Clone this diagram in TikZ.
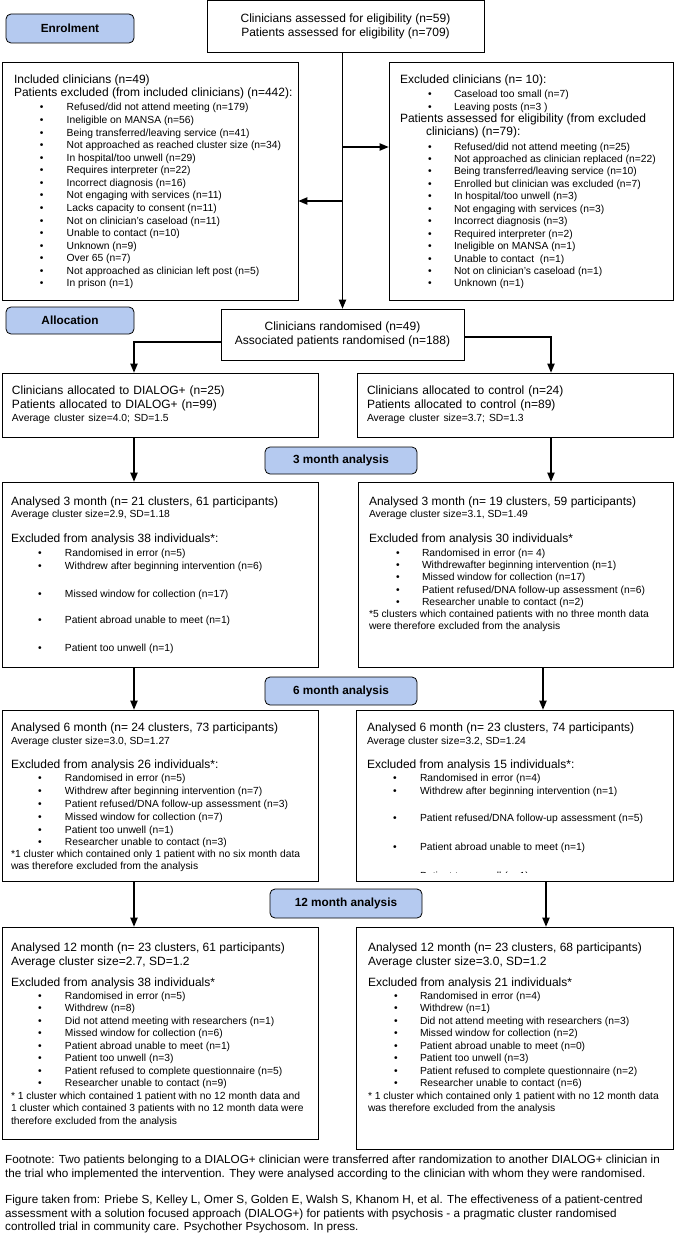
\documentclass[tikz,border=0pt]{standalone}
\usepackage{fontspec}
\setmainfont{Liberation Sans}
\usetikzlibrary{shapes.geometric, arrows, positioning}

\definecolor{stageblue}{RGB}{181,202,240}

\newlength{\hdx}\newlength{\bulx}\newlength{\txtx}
\newcommand{\hd}[1]{\hspace*{\hdx}\mbox{\fontsize{12}{13}\selectfont #1}}
\newcommand{\av}[1]{\hspace*{\hdx}\mbox{#1}}
\newcommand{\itm}[1]{\hspace*{\bulx}\makebox[0pt]{\textbullet}\hspace*{\txtx}\mbox{#1}}

\tikzstyle{stage} = [rectangle, rounded corners=5pt, minimum width=128pt, minimum height=29pt, text centered, draw=black, line width=0.8pt, fill=stageblue, font=\bfseries\fontsize{11.8}{14}\selectfont]
\tikzstyle{count} = [rectangle, align=center, draw=black, line width=0.8pt, fill=white, font=\fontsize{12}{14}\selectfont]
\tikzstyle{group} = [rectangle, minimum width=316pt, minimum height=64pt, text width=296pt, inner xsep=10pt, align=left, draw=black, line width=0.8pt, fill=white, font=\fontsize{12}{13.5}\selectfont]
\tikzstyle{listbox} = [rectangle, inner sep=0pt, draw=black, line width=0.8pt, fill=white]
\tikzstyle{note} = [anchor=north west, inner sep=0pt, align=left, font=\fontsize{11.7}{13.5}\selectfont]
\tikzstyle{arrow} = [line width=1.1pt,->,>=triangle 45]

\begin{document}
\begin{tikzpicture}[x=1pt, y=-1pt, node distance=2cm]
\useasboundingbox (0,0) rectangle (675,1244);

\node (assess) [count, minimum width=277pt, minimum height=52pt] at (345.5,26.5) {Clinicians assessed for eligibility (n=59)\\Patients assessed for eligibility (n=709)};
\node (enrol) [stage, left of=assess, node distance=275.5pt, yshift=-2pt] {Enrolment};

\node (incl) [listbox, below of=assess, node distance=154.5pt, xshift=-195.5pt] {\parbox[c][238pt][t]{296pt}{\fontsize{10.3}{12.57}\selectfont\lineskiplimit=-10pt
\setlength{\hdx}{12pt}\setlength{\bulx}{39.7pt}\setlength{\txtx}{25pt}%
\vspace*{13.2pt}\strut\hd{Included clinicians (n=49)}\\[0.4pt]
\hd{Patients excluded (from included clinicians) (n=442):}\\[1.4pt]
\itm{Refused/did not attend meeting (n=179)}\\
\itm{Ineligible on MANSA (n=56)}\\
\itm{Being transferred/leaving service (n=41)}\\
\itm{Not approached as reached cluster size (n=34)}\\
\itm{In hospital/too unwell (n=29)}\\
\itm{Requires interpreter (n=22)}\\
\itm{Incorrect diagnosis (n=16)}\\
\itm{Not engaging with services (n=11)}\\
\itm{Lacks capacity to consent (n=11)}\\
\itm{Not on clinician's caseload (n=11)}\\
\itm{Unable to contact (n=10)}\\
\itm{Unknown (n=9)}\\
\itm{Over 65 (n=7)}\\
\itm{Not approached as clinician left post (n=5)}\\
\itm{In prison (n=1)}}};

\node (excl) [listbox, right of=incl, node distance=381pt] {\parbox[c][238pt][t]{284pt}{\fontsize{10.3}{12.45}\selectfont\lineskiplimit=-10pt
\setlength{\hdx}{11pt}\setlength{\bulx}{41pt}\setlength{\txtx}{24pt}%
\vspace*{12.3pt}\strut\hd{Excluded clinicians (n= 10):}\\[1.55pt]
\itm{Caseload too small (n=7)}\\[0.55pt]
\itm{Leaving posts (n=3 )}\\[-0.45pt]
\hd{Patients assessed for eligibility (from excluded}\\[0.55pt]
\hspace*{26pt}\hd{clinicians) (n=79):}\\[2.55pt]
\itm{Refused/did not attend meeting (n=25)}\\
\itm{Not approached as clinician replaced (n=22)}\\
\itm{Being transferred/leaving service (n=10)}\\
\itm{Enrolled but clinician was excluded (n=7)}\\
\itm{In hospital/too unwell (n=3)}\\
\itm{Not engaging with services (n=3)}\\
\itm{Incorrect diagnosis (n=3)}\\
\itm{Required interpreter (n=2)}\\
\itm{Ineligible on MANSA (n=1)}\\
\itm{Unable to contact\ \ (n=1)}\\
\itm{Not on clinician's caseload (n=1)}\\
\itm{Unknown (n=1)}}};

\node (rand) [count, minimum width=243pt, minimum height=51pt, below of=assess, node distance=308pt, xshift=-3pt] {Clinicians randomised (n=49)\\Associated patients randomised (n=188)};
\node (alloc) [stage, minimum height=27pt, below of=enrol, node distance=292pt] {Allocation};

\node (dialog) [group, below of=incl, node distance=224pt, xshift=10pt] {Clinicians allocated to DIALOG+ (n=25)\\Patients allocated to DIALOG+ (n=99)\\{\fontsize{10.3}{13.5}\selectfont Average cluster size=4.0; SD=1.5}};
\node (control) [group, right of=dialog, node distance=355pt] {Clinicians allocated to control (n=24)\\Patients allocated to control (n=89)\\{\fontsize{10.3}{13.5}\selectfont Average cluster size=3.7; SD=1.3}};

\node (m3lab) [stage, minimum width=152pt, minimum height=27pt, below of=rand, node distance=126pt, xshift=-1.5pt] {3 month analysis};

\node (m3L) [listbox, below of=dialog, node distance=169.5pt] {\parbox[c][185pt][t]{316pt}{\fontsize{10.3}{13}\selectfont\lineskiplimit=-10pt
\setlength{\hdx}{9pt}\setlength{\bulx}{38pt}\setlength{\txtx}{25pt}%
\vspace*{13.9pt}\strut\hd{Analysed 3 month (n= 21 clusters, 61 participants)}\\[-1pt]
\av{Average cluster size=2.9, SD=1.18}\\[12pt]
\hd{Excluded from analysis 38 individuals*:}\\[1pt]
\itm{Randomised in error (n=5)}\\
\itm{Withdrew after beginning intervention (n=6)}\\[15pt]
\itm{Missed window for collection (n=17)}\\[13pt]
\itm{Patient abroad unable to meet (n=1)}\\[15pt]
\itm{Patient too unwell (n=1)}}};

\node (m3R) [listbox, right of=m3L, node distance=355.5pt] {\parbox[c][185pt][t]{315pt}{\fontsize{10.3}{12.3}\selectfont\lineskiplimit=-10pt
\setlength{\hdx}{11pt}\setlength{\bulx}{40pt}\setlength{\txtx}{24pt}%
\vspace*{14.4pt}\strut\hd{Analysed 3 month (n= 19 clusters, 59 participants)}\\[-0.3pt]
\av{Average cluster size=3.1, SD=1.49}\\[12.7pt]
\hd{Excluded from analysis 30 individuals*}\\[1.7pt]
\itm{Randomised in error (n= 4)}\\
\itm{Withdrewafter beginning intervention (n=1)}\\
\itm{Missed window for collection (n=17)}\\
\itm{Patient refused/DNA follow-up assessment (n=6)}\\
\itm{Researcher unable to contact (n=2)}\\[-0.3pt]
\av{*5 clusters which contained patients with no three month data}\\[-0.3pt]
\av{were therefore excluded from the analysis}}};

\node (m6lab) [stage, minimum width=152pt, minimum height=28pt, below of=m3lab, node distance=230.5pt] {6 month analysis};

\node (m6L) [listbox, below of=m3L, node distance=221pt] {\parbox[c][171pt][t]{316pt}{\fontsize{10.3}{12.8}\selectfont\lineskiplimit=-10pt
\setlength{\hdx}{9pt}\setlength{\bulx}{38pt}\setlength{\txtx}{25pt}%
\vspace*{13pt}\strut\hd{Analysed 6 month (n= 24 clusters, 73 participants)}\\[0.2pt]
\av{Average cluster size=3.0, SD=1.27}\\[11.2pt]
\hd{Excluded from analysis 26 individuals*:}\\[0.2pt]
\itm{Randomised in error (n=5)}\\
\itm{Withdrew after beginning intervention (n=7)}\\
\itm{Patient refused/DNA follow-up assessment (n=3)}\\
\itm{Missed window for collection (n=7)}\\
\itm{Patient too unwell (n=1)}\\
\itm{Researcher unable to contact (n=3)}\\[-0.8pt]
\av{*1 cluster which contained only 1 patient with no six month data}\\[-0.8pt]
\av{was therefore excluded from the analysis}}};

\node (m6R) [listbox, right of=m6L, node distance=354.5pt] {\parbox[c][171pt][t]{317pt}{\fontsize{10.3}{12.8}\selectfont\lineskiplimit=-10pt
\setlength{\hdx}{11pt}\setlength{\bulx}{39pt}\setlength{\txtx}{25pt}%
\vspace*{13pt}\strut\hd{Analysed 6 month (n= 23 clusters, 74 participants)}\\[0.2pt]
\av{Average cluster size=3.2, SD=1.24}\\[11.2pt]
\hd{Excluded from analysis 15 individuals*:}\\[0.2pt]
\itm{Randomised in error (n=4)}\\
\itm{Withdrew after beginning intervention (n=1)}\\[14.2pt]
\itm{Patient refused/DNA follow-up assessment (n=5)}\\[16.2pt]
\itm{Patient abroad unable to meet (n=1)}}};
% last line of this box is cut off by the box
\begin{scope}
\clip (356,860) rectangle (673,872);
\node (m6Rcut) [anchor=base west, inner sep=0pt, font=\fontsize{10.3}{12.8}\selectfont] at (420,879) {Patient too unwell (n=1)};
\end{scope}

\node (m12lab) [stage, minimum width=152pt, minimum height=29pt, below of=m6lab, node distance=212.5pt, xshift=5pt] {12 month analysis};

\node (m12L) [listbox, below of=m6L, node distance=237.5pt] {\parbox[c][212pt][t]{316pt}{\fontsize{10.3}{12.5}\selectfont\lineskiplimit=-10pt
\setlength{\hdx}{9pt}\setlength{\bulx}{38pt}\setlength{\txtx}{25pt}%
\vspace*{15.25pt}\strut\hd{Analysed 12 month (n= 23 clusters, 61 participants)}\\[1.5pt]
\hd{Average cluster size=2.7, SD=1.2}\\[8.5pt]
\hd{Excluded from analysis 38 individuals*}\\[0.5pt]
\itm{Randomised in error (n=5)}\\
\itm{Withdrew (n=8)}\\
\itm{Did not attend meeting with researchers (n=1)}\\
\itm{Missed window for collection (n=6)}\\
\itm{Patient abroad unable to meet (n=1)}\\
\itm{Patient too unwell (n=3)}\\
\itm{Patient refused to complete questionnaire (n=5)}\\
\itm{Researcher unable to contact (n=9)}\\
\av{* 1 cluster which contained 1 patient with no 12 month data and}\\
\av{1 cluster which contained 3 patients with no 12 month data were}\\
\av{therefore excluded from the analysis}}};

\node (m12R) [listbox, below of=m6R, node distance=242.5pt] {\parbox[c][222pt][t]{317pt}{\fontsize{10.3}{12.5}\selectfont\lineskiplimit=-10pt
\setlength{\hdx}{12pt}\setlength{\bulx}{40pt}\setlength{\txtx}{24pt}%
\vspace*{15.25pt}\strut\hd{Analysed 12 month (n= 23 clusters, 68 participants)}\\[1.5pt]
\hd{Average cluster size=3.0, SD=1.2}\\[8.5pt]
\hd{Excluded from analysis 21 individuals*}\\[0.5pt]
\itm{Randomised in error (n=4)}\\
\itm{Withdrew (n=1)}\\
\itm{Did not attend meeting with researchers (n=3)}\\
\itm{Missed window for collection (n=2)}\\
\itm{Patient abroad unable to meet (n=0)}\\
\itm{Patient too unwell (n=3)}\\
\itm{Patient refused to complete questionnaire (n=2)}\\
\itm{Researcher unable to contact (n=6)}\\
\av{* 1 cluster which contained only 1 patient with no 12 month data}\\
\av{was therefore excluded from the analysis}}};

\node (notes) [note] at (5,1155) {Footnote: Two patients belonging to a DIALOG+ clinician were transferred after randomization to another DIALOG+ clinician in\\the trial who implemented the intervention. They were analysed according to the clinician with whom they were randomised.\\[13pt]
Figure taken from: Priebe S, Kelley L, Omer S, Golden E, Walsh S, Khanom H, et al. The effectiveness of a patient-centred\\assessment with a solution focused approach (DIALOG+) for patients with psychosis - a pragmatic cluster randomised\\controlled trial in community care. Psychother Psychosom. In press.};

% connectors
\coordinate (split1) at (342.5,147);
\coordinate (split2) at (342.5,201);
\draw [arrow] (assess.south -| rand.north) -- (rand.north);
\draw [arrow] (split1) -- (split1 -| excl.west);
\draw [arrow] (split2) -- (split2 -| incl.east);
\draw [arrow] ([yshift=-7.5pt]rand.west) -| ([xshift=-26pt]dialog.north);
\draw [arrow] ([yshift=-2.5pt]rand.east) -| ([xshift=36pt]control.north);
\draw [arrow] ([xshift=-26pt]dialog.south) -- ([xshift=-26pt]m3L.north);
\draw [arrow] ([xshift=36pt]control.south) -- ([xshift=35.5pt]m3R.north);
\draw [arrow] ([xshift=-26pt]m3L.south) -- ([xshift=-26pt]m6L.north);
\draw [arrow] ([xshift=27.5pt]m3R.south) -- ([xshift=28.5pt]m6R.north);
\draw [arrow] ([xshift=-26pt]m6L.south) -- ([xshift=-26pt]m12L.north);
\draw [arrow] ([xshift=31.5pt]m6R.south) -- ([xshift=31.5pt]m12R.north);

\end{tikzpicture}
\end{document}
